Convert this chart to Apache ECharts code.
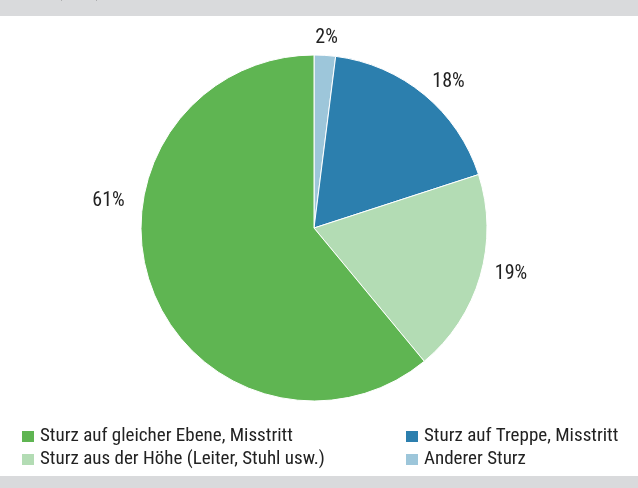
<!DOCTYPE html>
<html><head><meta charset="utf-8">
<script src="https://cdn.jsdelivr.net/npm/echarts@6/dist/echarts.min.js"></script>
<style>html,body{margin:0;padding:0;background:#fff}#c{width:638px;height:488px}</style>
</head><body><div id="c"></div>
<script>
const categories = ['Anderer Sturz', 'Sturz auf Treppe, Misstritt', 'Sturz aus der Höhe (Leiter, Stuhl usw.)', 'Sturz auf gleicher Ebene, Misstritt'];
const values = [2, 18, 19, 61];
const colors = ['#9dc6da', '#2c7fae', '#b3dcb4', '#5fb552'];
const legendLeft = ['Sturz auf gleicher Ebene, Misstritt', 'Sturz aus der Höhe (Leiter, Stuhl usw.)'];
const legendRight = ['Sturz auf Treppe, Misstritt', 'Anderer Sturz'];
const titleText = 'Stürze (in %) – Treppen, Leitern und Stürze auf gleicher Ebene';
const labelShift = [[-15, -9], [-2, -7], [2, -4], [-14, -88]];

const FONT = "'Roboto Condensed', 'DejaVu Sans Condensed', sans-serif";
const chart = echarts.init(document.getElementById('c'));
const legendCommon = {
  orient: 'vertical', itemWidth: 14, itemHeight: 13, itemGap: 4, icon: 'rect',
  textStyle: { fontFamily: FONT, fontSize: 19, lineHeight: 19, color: '#222' },
  selectedMode: false
};
chart.setOption({
  animation: false,
  graphic: [
    { type: 'rect', shape: { x: 0, y: 0, width: 638, height: 16 }, style: { fill: '#d9dadc' }, z: -1 },
    { type: 'rect', shape: { x: 0, y: 476, width: 638, height: 12 }, style: { fill: '#d9dadc' }, z: -1 },
    { type: 'text', left: 0, top: -19, style: { text: titleText, font: "bold 20px " + FONT, fill: '#222' } }
  ],
  legend: [
    Object.assign({ left: 15, top: 422, data: legendLeft }, legendCommon),
    Object.assign({ left: 399, top: 422, data: legendRight }, legendCommon)
  ],
  series: [{
    type: 'pie',
    center: [314, 228],
    radius: [0, 173],
    startAngle: 90,
    clockwise: true,
    data: categories.map((n, i) => ({ name: n, value: values[i], itemStyle: { color: colors[i] } })),
    itemStyle: { borderColor: '#fff', borderWidth: 1 },
    label: { show: true, position: 'outside', formatter: '{c}%', fontFamily: FONT, fontSize: 20, color: '#222' },
    labelLine: { show: false, length: 8, length2: 0 },
    labelLayout: function (p) { return { dx: labelShift[p.dataIndex][0], dy: labelShift[p.dataIndex][1] }; },
    emphasis: { disabled: true }
  }]
});
</script></body></html>
